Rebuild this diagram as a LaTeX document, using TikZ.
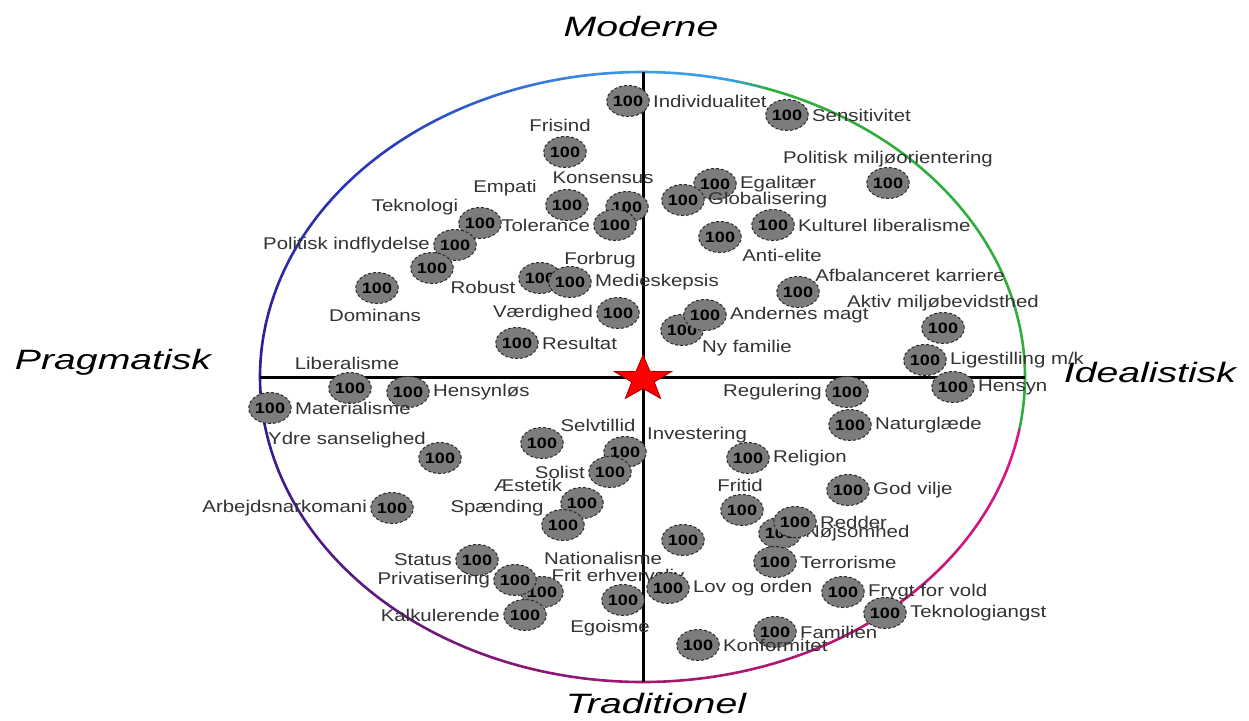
\documentclass[tikz,border=0pt]{standalone}
\usepackage{fontspec}
\setmainfont{Liberation Sans}
\newfontfamily\labfont[FakeStretch=1.2]{Liberation Sans}
\newfontfamily\axfont[FakeStretch=1.4]{Liberation Sans}
\usetikzlibrary{shapes.geometric}
\definecolor{grn}{HTML}{2FAE3C}
\definecolor{mag}{HTML}{E0157F}
\definecolor{dmag}{HTML}{A0186E}
\definecolor{purp}{HTML}{5E1A80}
\definecolor{indig}{HTML}{2C1A96}
\definecolor{blu}{HTML}{2A3CC0}
\definecolor{lblu}{HTML}{3C9EE6}
\definecolor{bubgray}{HTML}{7C7C7C}
\definecolor{bubedge}{HTML}{2A2A2A}
\definecolor{labgray}{HTML}{333333}
\tikzset{
  bub/.style={ellipse, minimum width=18pt, minimum height=15.5pt, inner sep=0pt,
    fill=bubgray, draw=bubedge, dash pattern=on 1.5pt off 1pt, line width=0.5pt,
    font=\labfont\bfseries\fontsize{7.5}{8}\selectfont, text=black},
  lab/.style={font=\labfont\fontsize{8.5}{10}\selectfont, text=labgray, inner sep=1.5pt},
  labr/.style={lab, anchor=west},
  labl/.style={lab, anchor=east},
  axlab/.style={font=\axfont\itshape\fontsize{14}{16}\selectfont, text=black, inner sep=0pt},
  axisline/.style={line width=1.5pt, black},
  rim/.style={line width=1.3pt, line cap=round}
}
\newcommand\bubR[3]{\node[bub] (#1) at (#2) {100}; \node[labr] (#1t) at (#1.east) {#3};}
\newcommand\bubL[3]{\node[bub] (#1) at (#2) {100}; \node[labl] (#1t) at (#1.west) {#3};}
\newcommand\bubA[4]{\node[lab] (#1t) at (#3) {#4}; \node[bub] (#1) at (#2) {100};}
\begin{document}
\begin{tikzpicture}[x=0.5pt, y=-0.5pt]
\useasboundingbox[fill=white] (0,0) rectangle (1249,720);
\coordinate (C) at (642.5,377);
% coloured rim of the ellipse
\foreach \sa/\ea/\ca/\cb in {-70/10/grn/grn, 10/90/mag/dmag, 90/135/dmag/purp,
    135/180/purp/indig, 180/230/indig/blu, 230/270/blu/lblu, 270/283/lblu/lblu, 283/290/lblu/grn}{
  \foreach \i in {0,...,9}{
    \pgfmathsetmacro\s{\sa+(\ea-\sa)*\i/10}
    \pgfmathsetmacro\e{\sa+(\ea-\sa)*(\i+1)/10}
    \pgfmathtruncatemacro\p{95-\i*10}
    \draw[rim, color=\ca!\p!\cb] ([shift={(\s:382.5 and 305)}]C)
      arc[start angle=\s, end angle=\e, x radius=382.5, y radius=305];
  }
}
% axes
\coordinate (top) at (643,72);
\coordinate (bot) at (643,682);
\coordinate (lft) at (260,377);
\coordinate (rgt) at (1025,377);
\draw[axisline] (top) -- (bot);
\draw[axisline] (lft) -- (rgt);
% axis titles
\node[axlab] (mod) at (641,26) {Moderne};
\node[axlab] (pra) at (113,362) {Pragmatisk};
\node[axlab] (tra) at (656,703) {Traditionel};
% bubbles, upper left
\bubR{c1}{628,101}{Individualitet}
\bubA{c2}{565,152}{560,125}{Frisind}
\bubA{c3}{567,205}{505,188}{Empati}
\bubA{c4}{627,207}{603,178}{Konsensus}
\bubL{c5}{615,225}{Tolerance}
\bubA{c6}{480,223}{415,207}{Teknologi}
\bubL{c7}{455,245}{Politisk indflydelse}
\bubA{c8}{432,268}{483,287}{Robust}
\bubA{c9}{377,288}{375,315}{Dominans}
\bubA{c10}{540,278}{600,260}{Forbrug}
\bubR{c11}{570,282}{Medieskepsis}
\bubL{c12}{618,313}{Værdighed}
\bubR{c13}{517,343}{Resultat}
\bubA{c14}{350,388}{347,363}{Liberalisme}
% upper right
\bubR{c15}{787,115}{Sensitivitet}
\bubA{c16}{888,183}{888,159}{Politisk miljøorientering}
\bubR{c17}{715,184}{Egalitær}
\bubR{c18}{683,200}{Globalisering}
\bubR{c19}{773,225}{Kulturel liberalisme}
\bubA{c20}{720,237}{782,255}{Anti-elite}
\bubA{c21}{798,292}{910,275}{Afbalanceret karriere}
\bubA{c22}{943,328}{943,303}{Aktiv miljøbevidsthed}
\bubA{c24}{682,330}{747,348}{Ny familie}
\bubR{c23}{705,315}{Andernes magt}
\bubR{c25}{925,360}{Ligestilling m/k}
% lower left
\bubR{c26}{408,392}{Hensynløs}
\bubR{c27}{270,408}{Materialisme}
\bubA{c28}{440,458}{347,440}{Ydre sanselighed}
\bubA{c29}{542,443}{598,425}{Selvtillid}
\bubA{c30}{625,452}{697,435}{Investering}
\bubL{c31}{610,472}{Solist}
\bubA{c32}{582,503}{528,485}{Æstetik}
\bubA{c33}{563,525}{497,508}{Spænding}
\bubL{c34}{392,508}{Arbejdsnarkomani}
\bubL{c35}{477,560}{Status}
\bubA{c37}{542,592}{618,575}{Frit erhvervsliv}
\bubL{c36}{515,580}{Privatisering}
\bubL{c38}{525,615}{Kalkulerende}
\bubA{c39}{623,600}{610,628}{Egoisme}
% lower right
\bubL{c40}{847,392}{Regulering}
\bubR{c41}{953,387}{Hensyn}
\bubR{c42}{850,425}{Naturglæde}
\bubR{c43}{748,458}{Religion}
\bubA{c44}{742,510}{740,485}{Fritid}
\bubR{c45}{848,490}{God vilje}
\bubA{c46}{683,540}{603,558}{Nationalisme}
\bubR{c47}{780,533}{Nøjsomhed}
\bubR{c48}{795,522}{Redder}
\bubR{c49}{775,562}{Terrorisme}
\bubR{c50}{668,588}{Lov og orden}
\bubR{c51}{843,592}{Frygt for vold}
\bubR{c52}{885,613}{Teknologiangst}
\bubR{c53}{775,632}{Familien}
\bubR{c54}{698,645}{Konformitet}
% right title drawn over the last label
\node[axlab] (ide) at (1150,372) {Idealistisk};
% centre star
\filldraw[fill=red, draw=red!60!black, line width=0.4pt]
  plot[samples at={0,...,9}] ({643+1.25*(mod(\x,2)==0?24:9.5)*cos(-90+36*\x)},
                              {379+(mod(\x,2)==0?24:9.5)*sin(-90+36*\x)}) -- cycle;
\end{tikzpicture}
\end{document}
